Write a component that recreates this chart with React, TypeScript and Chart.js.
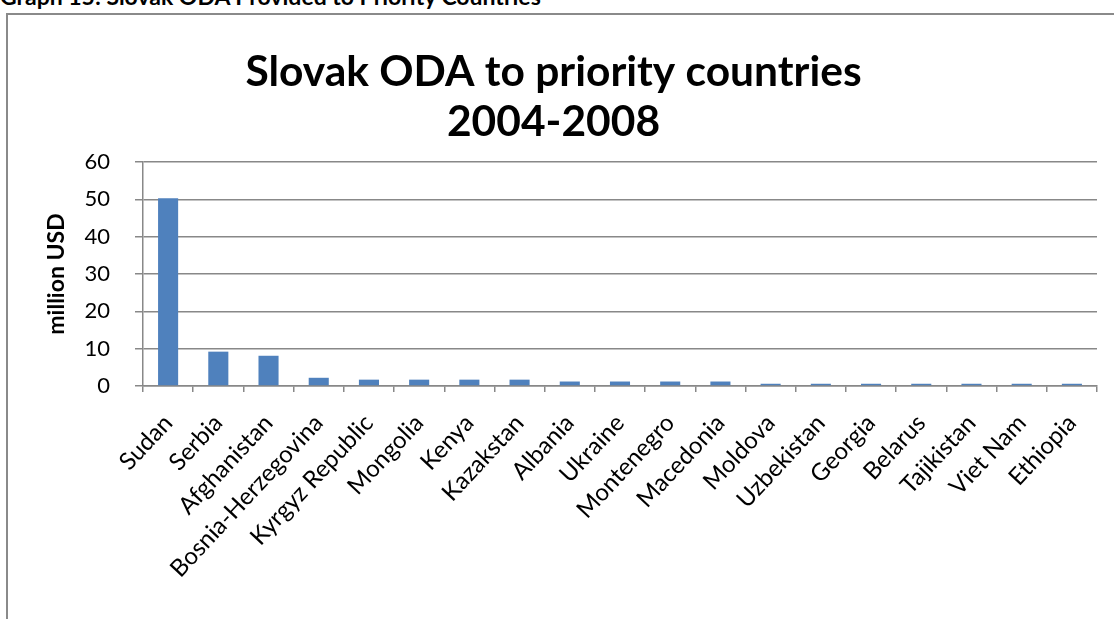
import React, { useEffect, useRef } from "react";
import { Chart, registerables } from "chart.js";

Chart.register(...registerables);

const categories: string[] = [
  "Sudan", "Serbia", "Afghanistan", "Bosnia-Herzegovina", "Kyrgyz Republic",
  "Mongolia", "Kenya", "Kazakstan", "Albania", "Ukraine", "Montenegro",
  "Macedonia", "Moldova", "Uzbekistan", "Georgia", "Belarus", "Tajikistan",
  "Viet Nam", "Ethiopia",
];

const odaMillionUSD: number[] = [
  50.3, 9.2, 8.1, 2.2, 1.7, 1.7, 1.7, 1.7, 1.2, 1.2, 1.2, 1.2,
  0.6, 0.6, 0.6, 0.6, 0.6, 0.6, 0.6,
];

const titleLines: string[] = ["Slovak ODA to priority countries", "2004-2008"];
const yAxisTitle = "million USD";
const headerText = "Graph 15: Slovak ODA Provided to Priority Countries";

const W = 1114;
const H = 619;
const GRID = "#888888";

export default function App() {
  const ref = useRef<HTMLCanvasElement | null>(null);

  useEffect(() => {
    if (!ref.current) return;
    const chart = new Chart(ref.current, {
      type: "bar",
      data: {
        labels: categories,
        datasets: [
          {
            label: "ODA",
            data: odaMillionUSD,
            backgroundColor: "#4f81bd",
            borderWidth: 0,
            barPercentage: 0.4,
            categoryPercentage: 1,
          },
        ],
      },
      options: {
        responsive: false,
        animation: false,
        layout: { padding: { left: 10, right: 17, top: 0, bottom: 0 } },
        plugins: {
          legend: { display: false },
          tooltip: { enabled: false },
          title: {
            display: true,
            text: titleLines,
            color: "#000",
            font: { family: "Lato", size: 42.5, weight: "bold", lineHeight: 1.16 },
            padding: { top: 48, bottom: 15.4 },
          },
        },
        scales: {
          x: {
            afterFit: (s: any) => {
              s.height = 233;
            },
            grid: {
              display: true,
              drawOnChartArea: false,
              drawTicks: true,
              tickLength: 6,
              color: GRID,
              lineWidth: 1.5,
            },
            border: { display: true, color: GRID, width: 1.5 },
            ticks: {
              autoSkip: false,
              maxRotation: 47,
              minRotation: 47,
              padding: 17,
              color: "#000",
              font: { family: "Lato", size: 24 },
            },
          },
          y: {
            min: 0,
            max: 60,
            afterFit: (s: any) => {
              s.width = 133;
            },
            grid: {
              color: GRID,
              lineWidth: 1.5,
              tickLength: 8,
              drawTicks: true,
            },
            border: { display: true, color: GRID, width: 1.5 },
            ticks: {
              stepSize: 10,
              padding: 25,
              color: "#000",
              font: { family: "Lato", size: 22 },
            },
            title: {
              display: true,
              text: yAxisTitle,
              color: "#000",
              font: { family: "Lato", size: 23, weight: "bold", lineHeight: 1.2 },
              padding: { top: 33, bottom: 0 },
            },
          },
        },
      },
    });
    return () => chart.destroy();
  }, []);

  return (
    <div
      style={{
        position: "absolute",
        left: 0,
        top: 0,
        width: W,
        height: H,
        overflow: "hidden",
        background: "#fff",
      }}
    >
      <div
        style={{
          position: "absolute",
          left: 0,
          top: -15,
          fontFamily: "Lato",
          fontWeight: "bold",
          fontSize: 23,
          lineHeight: "23px",
          whiteSpace: "nowrap",
          color: "#000",
        }}
      >
        {headerText}
      </div>
      <div
        style={{
          position: "absolute",
          left: 6,
          top: 13,
          width: 1300,
          height: 800,
          border: "2px solid #8a8a8a",
          boxSizing: "border-box",
        }}
      />
      <canvas
        ref={ref}
        width={W}
        height={H}
        style={{ position: "absolute", left: 0, top: 0, width: W, height: H }}
      />
    </div>
  );
}
